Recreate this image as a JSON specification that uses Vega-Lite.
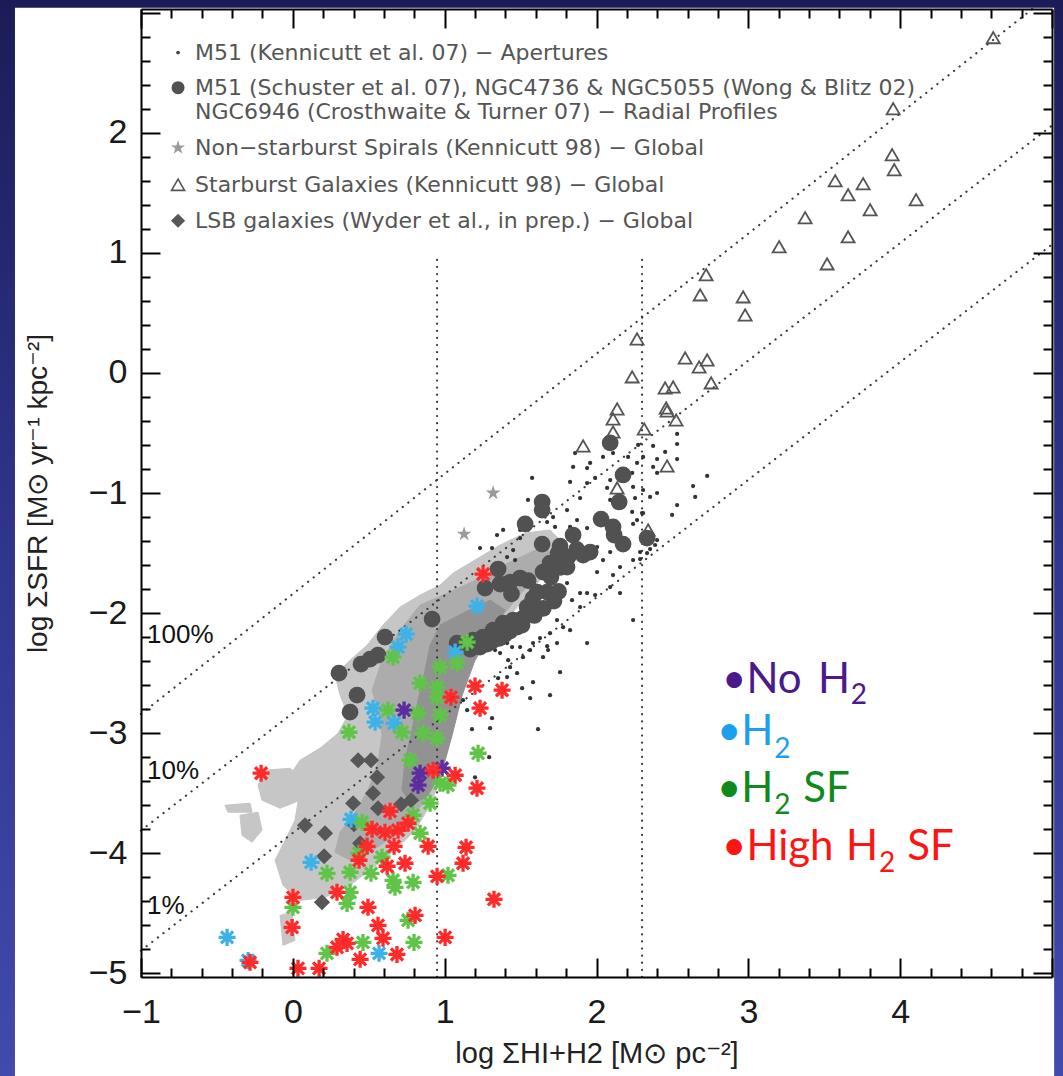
{
"$schema":"https://vega.github.io/schema/vega-lite/v6.json",
"width":911,"height":968,
"autosize":{"type":"none"},
"padding":{"left":141,"top":9,"right":11,"bottom":99},
"background":"#2e3287",
"config":{"view":{"stroke":null},"axis":{"zindex":1,"grid":false}},
"datasets":{
"poly":[
{"p":"o","lvl":1,"i":0,"x":1.055,"y":-1.667},{"p":"o","lvl":1,"i":1,"x":1.2,"y":-1.558},{"p":"o","lvl":1,"i":2,"x":1.365,"y":-1.433},{"p":"o","lvl":1,"i":3,"x":1.53,"y":-1.333},{"p":"o","lvl":1,"i":4,"x":1.694,"y":-1.308},{"p":"o","lvl":1,"i":5,"x":1.793,"y":-1.433},{"p":"o","lvl":1,"i":6,"x":1.694,"y":-1.625},{"p":"o","lvl":1,"i":7,"x":1.563,"y":-1.825},{"p":"o","lvl":1,"i":8,"x":1.431,"y":-2.017},{"p":"o","lvl":1,"i":9,"x":1.299,"y":-2.2},{"p":"o","lvl":1,"i":10,"x":1.187,"y":-2.392},{"p":"o","lvl":1,"i":11,"x":1.121,"y":-2.642},{"p":"o","lvl":1,"i":12,"x":1.069,"y":-2.892},{"p":"o","lvl":1,"i":13,"x":1.022,"y":-3.142},{"p":"o","lvl":1,"i":14,"x":0.97,"y":-3.392},{"p":"o","lvl":1,"i":15,"x":0.904,"y":-3.6},{"p":"o","lvl":1,"i":16,"x":0.805,"y":-3.808},{"p":"o","lvl":1,"i":17,"x":0.673,"y":-3.975},{"p":"o","lvl":1,"i":18,"x":0.522,"y":-4.125},{"p":"o","lvl":1,"i":19,"x":0.377,"y":-4.267},{"p":"o","lvl":1,"i":20,"x":0.212,"y":-4.367},{"p":"o","lvl":1,"i":21,"x":0.047,"y":-4.392},{"p":"o","lvl":1,"i":22,"x":-0.065,"y":-4.267},{"p":"o","lvl":1,"i":23,"x":-0.117,"y":-4.058},{"p":"o","lvl":1,"i":24,"x":-0.051,"y":-3.892},{"p":"o","lvl":1,"i":25,"x":0.014,"y":-3.725},{"p":"o","lvl":1,"i":26,"x":0.047,"y":-3.475},{"p":"o","lvl":1,"i":27,"x":-0.018,"y":-3.35},{"p":"o","lvl":1,"i":28,"x":0.047,"y":-3.225},{"p":"o","lvl":1,"i":29,"x":0.179,"y":-3.125},{"p":"o","lvl":1,"i":30,"x":0.298,"y":-3.0},{"p":"o","lvl":1,"i":31,"x":0.364,"y":-2.85},{"p":"o","lvl":1,"i":32,"x":0.311,"y":-2.683},{"p":"o","lvl":1,"i":33,"x":0.278,"y":-2.517},{"p":"o","lvl":1,"i":34,"x":0.377,"y":-2.392},{"p":"o","lvl":1,"i":35,"x":0.489,"y":-2.267},{"p":"o","lvl":1,"i":36,"x":0.594,"y":-2.1},{"p":"o","lvl":1,"i":37,"x":0.706,"y":-1.95},{"p":"o","lvl":1,"i":38,"x":0.838,"y":-1.85},{"p":"o","lvl":1,"i":39,"x":0.97,"y":-1.767},
{"p":"a","lvl":1,"i":0,"x":-0.183,"y":-3.308},{"p":"a","lvl":1,"i":1,"x":-0.018,"y":-3.292},{"p":"a","lvl":1,"i":2,"x":0.08,"y":-3.392},{"p":"a","lvl":1,"i":3,"x":0.047,"y":-3.558},{"p":"a","lvl":1,"i":4,"x":-0.084,"y":-3.625},{"p":"a","lvl":1,"i":5,"x":-0.203,"y":-3.558},{"p":"a","lvl":1,"i":6,"x":-0.229,"y":-3.433},
{"p":"b","lvl":1,"i":0,"x":-0.348,"y":-3.683},{"p":"b","lvl":1,"i":1,"x":-0.229,"y":-3.658},{"p":"b","lvl":1,"i":2,"x":-0.203,"y":-3.808},{"p":"b","lvl":1,"i":3,"x":-0.269,"y":-3.908},{"p":"b","lvl":1,"i":4,"x":-0.335,"y":-3.85},
{"p":"c","lvl":1,"i":0,"x":-0.447,"y":-3.6},{"p":"c","lvl":1,"i":1,"x":-0.282,"y":-3.583},{"p":"c","lvl":1,"i":2,"x":-0.269,"y":-3.658},{"p":"c","lvl":1,"i":3,"x":-0.427,"y":-3.658},
{"p":"e","lvl":1,"i":0,"x":-0.084,"y":-4.517},{"p":"e","lvl":1,"i":1,"x":-0.005,"y":-4.492},{"p":"e","lvl":1,"i":2,"x":0.014,"y":-4.725},{"p":"e","lvl":1,"i":3,"x":-0.065,"y":-4.767},
{"p":"m","lvl":2,"i":0,"x":0.838,"y":-1.933},{"p":"m","lvl":2,"i":1,"x":1.036,"y":-1.825},{"p":"m","lvl":2,"i":2,"x":1.233,"y":-1.708},{"p":"m","lvl":2,"i":3,"x":1.431,"y":-1.575},{"p":"m","lvl":2,"i":4,"x":1.628,"y":-1.458},{"p":"m","lvl":2,"i":5,"x":1.714,"y":-1.5},{"p":"m","lvl":2,"i":6,"x":1.628,"y":-1.658},{"p":"m","lvl":2,"i":7,"x":1.464,"y":-1.892},{"p":"m","lvl":2,"i":8,"x":1.332,"y":-2.1},{"p":"m","lvl":2,"i":9,"x":1.22,"y":-2.292},{"p":"m","lvl":2,"i":10,"x":1.134,"y":-2.517},{"p":"m","lvl":2,"i":11,"x":1.069,"y":-2.808},{"p":"m","lvl":2,"i":12,"x":1.016,"y":-3.1},{"p":"m","lvl":2,"i":13,"x":0.95,"y":-3.35},{"p":"m","lvl":2,"i":14,"x":0.871,"y":-3.558},{"p":"m","lvl":2,"i":15,"x":0.772,"y":-3.725},{"p":"m","lvl":2,"i":16,"x":0.64,"y":-3.875},{"p":"m","lvl":2,"i":17,"x":0.509,"y":-3.992},{"p":"m","lvl":2,"i":18,"x":0.377,"y":-4.058},{"p":"m","lvl":2,"i":19,"x":0.278,"y":-3.992},{"p":"m","lvl":2,"i":20,"x":0.311,"y":-3.825},{"p":"m","lvl":2,"i":21,"x":0.41,"y":-3.658},{"p":"m","lvl":2,"i":22,"x":0.495,"y":-3.475},{"p":"m","lvl":2,"i":23,"x":0.561,"y":-3.242},{"p":"m","lvl":2,"i":24,"x":0.588,"y":-3.017},{"p":"m","lvl":2,"i":25,"x":0.561,"y":-2.808},{"p":"m","lvl":2,"i":26,"x":0.522,"y":-2.642},{"p":"m","lvl":2,"i":27,"x":0.588,"y":-2.392},{"p":"m","lvl":2,"i":28,"x":0.706,"y":-2.142},
{"p":"d","lvl":3,"i":0,"x":0.97,"y":-2.1},{"p":"d","lvl":3,"i":1,"x":1.134,"y":-1.992},{"p":"d","lvl":3,"i":2,"x":1.299,"y":-1.892},{"p":"d","lvl":3,"i":3,"x":1.398,"y":-1.975},{"p":"d","lvl":3,"i":4,"x":1.299,"y":-2.183},{"p":"d","lvl":3,"i":5,"x":1.2,"y":-2.392},{"p":"d","lvl":3,"i":6,"x":1.115,"y":-2.683},{"p":"d","lvl":3,"i":7,"x":1.049,"y":-3.017},{"p":"d","lvl":3,"i":8,"x":0.983,"y":-3.308},{"p":"d","lvl":3,"i":9,"x":0.891,"y":-3.517},{"p":"d","lvl":3,"i":10,"x":0.785,"y":-3.6},{"p":"d","lvl":3,"i":11,"x":0.719,"y":-3.475},{"p":"d","lvl":3,"i":12,"x":0.739,"y":-3.225},{"p":"d","lvl":3,"i":13,"x":0.785,"y":-2.975},{"p":"d","lvl":3,"i":14,"x":0.825,"y":-2.725},{"p":"d","lvl":3,"i":15,"x":0.871,"y":-2.475},{"p":"d","lvl":3,"i":16,"x":0.904,"y":-2.267}
],
"lines":[
{"id":"p100","i":0,"x":-1,"y":-2.84},{"id":"p100","i":1,"x":4.87,"y":3.03},
{"id":"p10","i":0,"x":-1,"y":-3.81},{"id":"p10","i":1,"x":5,"y":2.06},
{"id":"p1","i":0,"x":-1,"y":-4.81},{"id":"p1","i":1,"x":5,"y":1.07},
{"id":"v1","i":0,"x":0.95,"y":-5.03},{"id":"v1","i":1,"x":0.95,"y":0.98},
{"id":"v2","i":0,"x":2.3,"y":-5.03},{"id":"v2","i":1,"x":2.3,"y":0.98}
],
"dots":[
{"x":1.859,"y":-0.667},{"x":1.958,"y":-0.75},{"x":1.991,"y":-0.875},{"x":2.043,"y":-0.7},{"x":2.109,"y":-0.667},{"x":2.208,"y":-0.7},{"x":2.274,"y":-0.6},{"x":2.307,"y":-0.7},{"x":2.373,"y":-0.783},{"x":2.399,"y":-0.833},{"x":2.267,"y":-0.75},{"x":2.235,"y":-0.833},{"x":2.09,"y":-0.892},{"x":2.07,"y":-0.958},{"x":2.09,"y":-1.058},{"x":2.241,"y":-0.95},{"x":2.307,"y":-0.975},{"x":2.399,"y":-1.0},{"x":2.254,"y":-1.042},{"x":2.235,"y":-1.158},{"x":2.307,"y":-1.167},{"x":2.267,"y":-1.225},{"x":1.938,"y":-0.917},{"x":1.826,"y":-0.908},{"x":1.892,"y":-1.042},{"x":1.806,"y":-1.142},{"x":1.714,"y":-1.2},{"x":1.872,"y":-1.225},{"x":1.938,"y":-1.292},{"x":1.826,"y":-1.283},{"x":1.727,"y":-1.283},{"x":1.675,"y":-1.242},{"x":1.576,"y":-0.875},{"x":1.549,"y":-1.058},{"x":1.497,"y":-1.308},{"x":1.385,"y":-1.308},{"x":1.345,"y":-1.35},{"x":1.497,"y":-1.375},{"x":1.233,"y":-1.458},{"x":1.312,"y":-1.458},{"x":1.451,"y":-1.475},{"x":1.411,"y":-1.533},{"x":1.464,"y":-1.558},{"x":2.004,"y":-1.45},{"x":2.09,"y":-1.492},{"x":2.043,"y":-1.558},{"x":2.155,"y":-1.617},{"x":2.287,"y":-1.492},{"x":2.241,"y":-1.558},{"x":2.333,"y":-1.5},{"x":2.109,"y":-1.683},{"x":2.004,"y":-1.658},{"x":1.892,"y":-1.833},{"x":1.938,"y":-1.833},{"x":1.991,"y":-1.85},{"x":2.09,"y":-1.783},{"x":1.806,"y":-1.75},{"x":1.76,"y":-1.808},{"x":1.714,"y":-1.892},{"x":1.675,"y":-2.0},{"x":1.74,"y":-2.058},{"x":1.839,"y":-1.892},{"x":1.892,"y":-1.95},{"x":1.78,"y":-2.117},{"x":1.694,"y":-2.167},{"x":1.628,"y":-2.208},{"x":1.582,"y":-2.25},{"x":1.938,"y":-2.25},{"x":1.826,"y":-2.142},{"x":2.386,"y":-1.433},{"x":2.155,"y":-1.833},{"x":2.241,"y":-2.058},{"x":1.365,"y":-2.333},{"x":1.444,"y":-2.283},{"x":1.497,"y":-2.283},{"x":1.563,"y":-2.308},{"x":1.675,"y":-2.275},{"x":1.477,"y":-2.5},{"x":1.411,"y":-2.533},{"x":1.352,"y":-2.542},{"x":1.431,"y":-2.45},{"x":1.76,"y":-2.492},{"x":1.582,"y":-2.575},{"x":1.51,"y":-2.625},{"x":1.694,"y":-2.683},{"x":1.563,"y":-2.708},{"x":1.148,"y":-2.808},{"x":1.312,"y":-2.875},{"x":1.121,"y":-2.725},{"x":1.18,"y":-2.967},{"x":1.299,"y":-2.958},{"x":1.615,"y":-2.967},{"x":1.293,"y":-3.2},{"x":1.2,"y":-3.367},{"x":1.74,"y":-2.25},{"x":1.681,"y":-2.308},{"x":1.648,"y":-2.367},{"x":1.411,"y":-2.25},{"x":1.332,"y":-2.308},{"x":1.418,"y":-2.392},{"x":1.516,"y":-2.367},{"x":2.373,"y":-0.608},{"x":2.452,"y":-0.658},{"x":2.531,"y":-0.592},{"x":2.531,"y":-0.508},{"x":2.399,"y":-0.717},{"x":2.531,"y":-0.717},{"x":2.729,"y":-0.858},{"x":2.636,"y":-0.942},{"x":2.65,"y":-1.033},{"x":2.531,"y":-1.1},{"x":2.498,"y":-1.183},{"x":2.353,"y":-1.033},{"x":2.3,"y":-1.167},{"x":2.241,"y":-1.258},{"x":2.399,"y":-1.392},{"x":2.353,"y":-1.467},{"x":2.287,"y":-1.55},{"x":1.846,"y":-0.783},{"x":1.938,"y":-0.792}
],
"circles":[
{"x":2.09,"y":-0.583},{"x":2.175,"y":-0.85},{"x":2.149,"y":-1.075},{"x":1.642,"y":-1.075},{"x":1.642,"y":-1.142},{"x":1.53,"y":-1.258},{"x":2.03,"y":-1.217},{"x":2.109,"y":-1.283},{"x":2.116,"y":-1.35},{"x":2.175,"y":-1.425},{"x":2.333,"y":-1.375},{"x":1.846,"y":-1.35},{"x":1.642,"y":-1.425},{"x":1.76,"y":-1.442},{"x":1.958,"y":-1.492},{"x":1.912,"y":-1.517},{"x":1.813,"y":-1.533},{"x":1.747,"y":-1.5},{"x":1.694,"y":-1.583},{"x":1.806,"y":-1.617},{"x":1.648,"y":-1.658},{"x":1.497,"y":-1.708},{"x":1.431,"y":-1.742},{"x":1.365,"y":-1.758},{"x":1.352,"y":-1.633},{"x":1.609,"y":-1.825},{"x":1.675,"y":-1.825},{"x":1.266,"y":-1.792},{"x":1.543,"y":-1.95},{"x":1.516,"y":-2.042},{"x":1.451,"y":-2.058},{"x":1.385,"y":-2.083},{"x":1.319,"y":-2.142},{"x":1.253,"y":-2.2},{"x":0.917,"y":-2.05},{"x":1.187,"y":-2.225},{"x":0.607,"y":-2.2},{"x":0.304,"y":-2.5},{"x":0.423,"y":-2.683},{"x":0.377,"y":-2.825},{"x":0.449,"y":-2.425},{"x":0.509,"y":-2.383},{"x":0.561,"y":-2.35},{"x":1.233,"y":-2.283},{"x":1.312,"y":-2.233},{"x":1.398,"y":-2.175},{"x":1.477,"y":-2.117},{"x":1.082,"y":-2.25},{"x":1.563,"y":-1.992},
{"x":1.168,"y":-2.3},{"x":1.28,"y":-2.258},{"x":1.36,"y":-2.21},{"x":1.43,"y":-2.15},{"x":1.51,"y":-2.1},{"x":1.59,"y":-2.02},{"x":1.65,"y":-1.96},{"x":1.72,"y":-1.9},{"x":1.75,"y":-1.82},{"x":1.58,"y":-1.88},{"x":1.7,"y":-1.7},{"x":1.76,"y":-1.62},{"x":1.87,"y":-1.47},{"x":1.55,"y":-1.73},{"x":1.44,"y":-1.84}
],
"tri":[
{"x":4.613,"y":2.792},{"x":3.954,"y":2.2},{"x":3.947,"y":1.817},{"x":3.961,"y":1.692},{"x":3.572,"y":1.6},{"x":3.756,"y":1.575},{"x":3.657,"y":1.483},{"x":4.105,"y":1.442},{"x":3.802,"y":1.358},{"x":3.374,"y":1.292},{"x":3.657,"y":1.133},{"x":3.203,"y":1.05},{"x":3.519,"y":0.908},{"x":2.722,"y":0.817},{"x":2.683,"y":0.65},{"x":2.966,"y":0.633},{"x":2.979,"y":0.483},{"x":2.267,"y":0.283},{"x":2.235,"y":-0.033},{"x":2.584,"y":0.125},{"x":2.729,"y":0.108},{"x":2.676,"y":0.05},{"x":2.755,"y":-0.083},{"x":2.452,"y":-0.125},{"x":2.505,"y":-0.117},{"x":2.459,"y":-0.292},{"x":2.465,"y":-0.317},{"x":2.524,"y":-0.392},{"x":2.136,"y":-0.3},{"x":2.109,"y":-0.383},{"x":2.109,"y":-0.492},{"x":2.314,"y":-0.467},{"x":1.912,"y":-0.608},{"x":2.465,"y":-0.775},{"x":2.34,"y":-1.308},{"x":2.136,"y":-0.958}
],
"stars":[{"x":1.319,"y":-1.0},{"x":1.128,"y":-1.342}],
"dia":[
{"x":0.43,"y":-3.225},{"x":0.515,"y":-3.225},{"x":0.555,"y":-3.367},{"x":0.528,"y":-3.5},{"x":0.397,"y":-3.583},{"x":0.561,"y":-3.625},{"x":0.713,"y":-3.592},{"x":0.779,"y":-3.558},{"x":0.08,"y":-3.767},{"x":0.212,"y":-3.833},{"x":0.403,"y":-3.758},{"x":0.206,"y":-4.025},{"x":0.192,"y":-4.408},{"x":0.443,"y":-3.917}
],
"ast":[
{"x":1.213,"y":-1.942,"c":"H2"},{"x":0.746,"y":-2.175,"c":"H2"},{"x":0.693,"y":-2.283,"c":"H2"},{"x":0.66,"y":-2.367,"c":"H2 SF"},{"x":1.069,"y":-2.325,"c":"H2"},{"x":1.148,"y":-2.242,"c":"H2 SF"},{"x":0.97,"y":-2.45,"c":"H2 SF"},{"x":1.082,"y":-2.417,"c":"H2 SF"},{"x":0.838,"y":-2.583,"c":"H2 SF"},{"x":0.95,"y":-2.617,"c":"H2 SF"},{"x":0.95,"y":-2.7,"c":"H2 SF"},
{"x":0.528,"y":-2.792,"c":"H2"},{"x":0.542,"y":-2.908,"c":"H2"},{"x":0.627,"y":-2.808,"c":"H2 SF"},{"x":0.733,"y":-2.808,"c":"No H2"},{"x":0.825,"y":-2.833,"c":"H2 SF"},{"x":0.667,"y":-2.917,"c":"H2"},{"x":0.719,"y":-2.992,"c":"H2 SF"},{"x":0.858,"y":-3.0,"c":"H2 SF"},{"x":0.97,"y":-2.85,"c":"H2 SF"},{"x":0.95,"y":-3.042,"c":"H2 SF"},{"x":0.37,"y":-2.992,"c":"H2 SF"},{"x":1.22,"y":-3.167,"c":"H2 SF"},{"x":0.772,"y":-3.225,"c":"H2 SF"},
{"x":0.838,"y":-3.333,"c":"No H2"},{"x":0.983,"y":-3.292,"c":"No H2"},{"x":0.825,"y":-3.433,"c":"No H2"},{"x":0.97,"y":-3.417,"c":"H2 SF"},{"x":1.022,"y":-3.433,"c":"H2 SF"},{"x":0.904,"y":-3.583,"c":"H2 SF"},{"x":0.792,"y":-3.683,"c":"H2 SF"},{"x":0.383,"y":-3.717,"c":"H2"},{"x":0.456,"y":-3.742,"c":"H2 SF"},{"x":0.838,"y":-3.833,"c":"H2 SF"},{"x":0.436,"y":-4.0,"c":"H2 SF"},{"x":0.587,"y":-4.033,"c":"H2 SF"},{"x":0.12,"y":-4.075,"c":"H2"},{"x":0.225,"y":-4.167,"c":"H2 SF"},{"x":0.377,"y":-4.158,"c":"H2 SF"},{"x":0.515,"y":-4.167,"c":"H2 SF"},{"x":0.66,"y":-4.225,"c":"H2 SF"},{"x":0.792,"y":-4.242,"c":"H2 SF"},{"x":1.022,"y":-4.183,"c":"H2 SF"},{"x":0.673,"y":-4.283,"c":"H2 SF"},{"x":0.377,"y":-4.325,"c":"H2 SF"},{"x":0.001,"y":-4.45,"c":"H2 SF"},{"x":0.357,"y":-4.417,"c":"H2 SF"},{"x":0.759,"y":-4.558,"c":"H2 SF"},{"x":0.798,"y":-4.742,"c":"H2 SF"},{"x":-0.433,"y":-4.7,"c":"H2"},{"x":0.462,"y":-4.742,"c":"H2 SF"},{"x":0.225,"y":-4.833,"c":"H2 SF"},{"x":0.568,"y":-4.833,"c":"H2"},{"x":-0.295,"y":-4.892,"c":"H2"},
{"x":1.253,"y":-1.675,"c":"High H2 SF"},{"x":1.042,"y":-2.7,"c":"High H2 SF"},{"x":1.2,"y":-2.608,"c":"High H2 SF"},{"x":1.233,"y":-2.792,"c":"High H2 SF"},{"x":1.378,"y":-2.642,"c":"High H2 SF"},{"x":0.924,"y":-3.308,"c":"High H2 SF"},{"x":1.069,"y":-3.35,"c":"High H2 SF"},{"x":-0.209,"y":-3.333,"c":"High H2 SF"},{"x":1.213,"y":-3.458,"c":"High H2 SF"},{"x":0.64,"y":-3.65,"c":"High H2 SF"},{"x":0.522,"y":-3.8,"c":"High H2 SF"},{"x":0.607,"y":-3.825,"c":"High H2 SF"},{"x":0.693,"y":-3.808,"c":"High H2 SF"},{"x":0.759,"y":-3.75,"c":"High H2 SF"},{"x":0.489,"y":-3.942,"c":"High H2 SF"},{"x":0.667,"y":-3.942,"c":"High H2 SF"},{"x":0.891,"y":-3.942,"c":"High H2 SF"},{"x":1.141,"y":-3.95,"c":"High H2 SF"},{"x":1.121,"y":-4.083,"c":"High H2 SF"},{"x":0.436,"y":-4.058,"c":"High H2 SF"},{"x":0.621,"y":-4.108,"c":"High H2 SF"},{"x":0.739,"y":-4.083,"c":"High H2 SF"},{"x":0.95,"y":-4.192,"c":"High H2 SF"},{"x":0.291,"y":-4.325,"c":"High H2 SF"},{"x":0.001,"y":-4.367,"c":"High H2 SF"},{"x":0.495,"y":-4.45,"c":"High H2 SF"},{"x":1.325,"y":-4.383,"c":"High H2 SF"},{"x":0.805,"y":-4.517,"c":"High H2 SF"},{"x":-0.005,"y":-4.617,"c":"High H2 SF"},{"x":0.561,"y":-4.6,"c":"High H2 SF"},{"x":0.594,"y":-4.708,"c":"High H2 SF"},{"x":1.003,"y":-4.7,"c":"High H2 SF"},{"x":0.331,"y":-4.717,"c":"High H2 SF"},{"x":0.357,"y":-4.75,"c":"High H2 SF"},{"x":0.291,"y":-4.783,"c":"High H2 SF"},{"x":0.686,"y":-4.842,"c":"High H2 SF"},{"x":0.443,"y":-4.883,"c":"High H2 SF"},{"x":-0.282,"y":-4.908,"c":"High H2 SF"},{"x":0.034,"y":-4.958,"c":"High H2 SF"},{"x":0.173,"y":-4.958,"c":"High H2 SF"}
],
"legtext":[
{"x":-0.644,"y":2.667,"t":"M51 (Kennicutt et al. 07) − Apertures"},
{"x":-0.644,"y":2.375,"t":"M51 (Schuster et al. 07), NGC4736 & NGC5055 (Wong & Blitz 02)"},
{"x":-0.644,"y":2.175,"t":"NGC6946 (Crosthwaite & Turner 07) − Radial Profiles"},
{"x":-0.644,"y":1.875,"t":"Non−starburst Spirals (Kennicutt 98) − Global"},
{"x":-0.644,"y":1.567,"t":"Starburst Galaxies (Kennicutt 98) − Global"},
{"x":-0.644,"y":1.267,"t":"LSB galaxies (Wyder et al., in prep.) − Global"}
],
"pct":[{"x":-0.96,"y":-2.183,"t":"100%"},{"x":-0.96,"y":-3.317,"t":"10%"},{"x":-0.96,"y":-4.442,"t":"1%"}],
"annot":[
{"x":2.827,"y":-2.558,"t":"•No","c":"No H2","part":"l"},
{"x":3.67,"y":-2.558,"t":"H","c":"No H2","part":"r"},
{"x":3.675,"y":-2.69,"t":"2","c":"No H2","part":"s"},
{"x":3.165,"y":-2.992,"t":"•H","c":"H2","part":"r"},
{"x":3.17,"y":-3.14,"t":"2","c":"H2","part":"s"},
{"x":3.165,"y":-3.467,"t":"•H","c":"H2 SF","part":"r"},
{"x":3.17,"y":-3.605,"t":"2","c":"H2 SF","part":"s"},
{"x":3.361,"y":-3.467,"t":"SF","c":"H2 SF","part":"l"},
{"x":2.827,"y":-3.95,"t":"•High","c":"High H2 SF","part":"l"},
{"x":3.855,"y":-3.95,"t":"H","c":"High H2 SF","part":"r"},
{"x":3.86,"y":-4.09,"t":"2","c":"High H2 SF","part":"s"},
{"x":4.046,"y":-3.95,"t":"SF","c":"High H2 SF","part":"l"}
]
},
"encoding":{
"x":{"field":"x","type":"quantitative","scale":{"domain":[-1,5],"nice":false,"zero":false},"axis":null},
"y":{"field":"y","type":"quantitative","scale":{"domain":[-5.03,3.03],"nice":false,"zero":false},"axis":null}
},
"layer":[
{"data":{"values":[{"x":-1.93,"x2":5.08,"y":-5.86,"y2":3.11}]},"mark":{"type":"rect","fill":{"gradient":"linear","x1":0,"y1":0,"x2":0,"y2":1,"stops":[{"offset":0,"color":"#1b1c57"},{"offset":0.5,"color":"#30358c"},{"offset":1,"color":"#424aab"}]}},"encoding":{"x2":{"field":"x2"},"y2":{"field":"y2"}}},
{"data":{"values":[{"x":-1.83,"x2":5.014,"y":-5.86,"y2":3.04}]},"mark":{"type":"rect","fill":"#ffffff"},"encoding":{"x2":{"field":"x2"},"y2":{"field":"y2"}}},
{"data":{"name":"poly"},"transform":[{"filter":"datum.lvl==1"}],"mark":{"type":"line","interpolate":"linear-closed","fill":"#c6c6c6","stroke":"#c6c6c6","strokeWidth":1},"encoding":{"detail":{"field":"p","type":"nominal"},"order":{"field":"i","type":"quantitative"}}},
{"data":{"name":"poly"},"transform":[{"filter":"datum.lvl==2"}],"mark":{"type":"line","interpolate":"linear-closed","fill":"#acacac","stroke":"#acacac","strokeWidth":1},"encoding":{"detail":{"field":"p","type":"nominal"},"order":{"field":"i","type":"quantitative"}}},
{"data":{"name":"poly"},"transform":[{"filter":"datum.lvl==3"}],"mark":{"type":"line","interpolate":"linear-closed","fill":"#929292","stroke":"#929292","strokeWidth":1},"encoding":{"detail":{"field":"p","type":"nominal"},"order":{"field":"i","type":"quantitative"}}},
{"data":{"name":"lines"},"mark":{"type":"line","stroke":"#3a3a3a","strokeWidth":2.2,"strokeDash":[0.1,7],"strokeCap":"round"},"encoding":{"detail":{"field":"id","type":"nominal"},"order":{"field":"i","type":"quantitative"}}},
{"data":{"name":"dots"},"mark":{"type":"point","shape":"circle","filled":true,"size":18,"color":"#333333","opacity":1}},
{"data":{"name":"stars"},"mark":{"type":"point","shape":"M0,-1L0.2245,-0.309L0.951,-0.309L0.363,0.118L0.588,0.809L0,0.382L-0.588,0.809L-0.363,0.118L-0.951,-0.309L-0.2245,-0.309Z","filled":true,"size":240,"color":"#9a9a9a","opacity":1}},
{"data":{"name":"tri"},"mark":{"type":"point","shape":"triangle-up","filled":false,"size":170,"stroke":"#555555","strokeWidth":1.8,"opacity":1}},
{"data":{"name":"circles"},"mark":{"type":"point","shape":"circle","filled":true,"size":280,"color":"#515151","opacity":1}},
{"data":{"name":"dia"},"mark":{"type":"point","shape":"diamond","filled":true,"size":260,"color":"#575757","opacity":1}},
{"data":{"name":"ast"},"mark":{"type":"point","shape":"M-1,0L1,0M0,-1L0,1M-0.71,-0.71L0.71,0.71M-0.71,0.71L0.71,-0.71","filled":false,"size":290,"strokeWidth":3.3,"opacity":1},"encoding":{"color":{"field":"c","type":"nominal","scale":{"domain":["No H2","H2","H2 SF","High H2 SF"],"range":["#5b2d9e","#3cb2e8","#5fc447","#ff2a2a"]},"legend":null}}},
{"data":{"values":[{"x":-0.756,"y":2.667}]},"mark":{"type":"point","shape":"circle","filled":true,"size":14,"color":"#444444","opacity":1}},
{"data":{"values":[{"x":-0.756,"y":2.375}]},"mark":{"type":"point","shape":"circle","filled":true,"size":170,"color":"#515151","opacity":1}},
{"data":{"values":[{"x":-0.756,"y":1.875}]},"mark":{"type":"point","shape":"M0,-1L0.2245,-0.309L0.951,-0.309L0.363,0.118L0.588,0.809L0,0.382L-0.588,0.809L-0.363,0.118L-0.951,-0.309L-0.2245,-0.309Z","filled":true,"size":220,"color":"#9a9a9a","opacity":1}},
{"data":{"values":[{"x":-0.756,"y":1.567}]},"mark":{"type":"point","shape":"triangle-up","filled":false,"size":170,"stroke":"#555555","strokeWidth":1.6,"opacity":1}},
{"data":{"values":[{"x":-0.756,"y":1.267}]},"mark":{"type":"point","shape":"diamond","filled":true,"size":200,"color":"#575757","opacity":1}},
{"data":{"name":"legtext"},"mark":{"type":"text","align":"left","baseline":"middle","font":"DejaVu Sans","fontSize":22,"color":"#555555"},"encoding":{"text":{"field":"t"}}},
{"data":{"name":"pct"},"mark":{"type":"text","align":"left","baseline":"middle","font":"Liberation Sans","fontSize":26,"color":"#111111"},"encoding":{"text":{"field":"t"}}},
{"data":{"name":"annot"},"transform":[{"filter":"datum.part=='l'"}],"mark":{"type":"text","align":"left","baseline":"middle","font":"Lato","fontSize":42},"encoding":{"text":{"field":"t"},"color":{"field":"c","type":"nominal","scale":{"domain":["No H2","H2","H2 SF","High H2 SF"],"range":["#4a1a8c","#1d9ff0","#108a1c","#ff1414"]},"legend":null}}},
{"data":{"name":"annot"},"transform":[{"filter":"datum.part=='r'"}],"mark":{"type":"text","align":"right","baseline":"middle","font":"Lato","fontSize":42},"encoding":{"text":{"field":"t"},"color":{"field":"c","type":"nominal","scale":{"domain":["No H2","H2","H2 SF","High H2 SF"],"range":["#4a1a8c","#1d9ff0","#108a1c","#ff1414"]},"legend":null}}},
{"data":{"name":"annot"},"transform":[{"filter":"datum.part=='s'"}],"mark":{"type":"text","align":"left","baseline":"middle","font":"Lato","fontSize":28},"encoding":{"text":{"field":"t"},"color":{"field":"c","type":"nominal","scale":{"domain":["No H2","H2","H2 SF","High H2 SF"],"range":["#4a1a8c","#1d9ff0","#108a1c","#ff1414"]},"legend":null}}},
{"data":{"values":[{"x":0,"y":0}]},"mark":{"type":"point","opacity":0},
 "encoding":{
 "x":{"field":"x","type":"quantitative","scale":{"domain":[-1,5],"nice":false,"zero":false},"axis":{"orient":"bottom","values":[-1,0,1,2,3,4],"ticks":false,"domain":true,"domainColor":"#000000","domainWidth":2,"labelFont":"Liberation Sans Narrow, Liberation Sans","labelFontSize":34,"labelColor":"#1a1a1a","labelPadding":18,"labelFlush":false,"labelOverlap":false,"title":"log ΣHI+H2 [M⊙ pc⁻²]","titleFont":"Liberation Sans","titleFontSize":29,"titleFontWeight":"normal","titleColor":"#222222","titlePadding":10,"zindex":1}},
 "y":{"field":"y","type":"quantitative","scale":{"domain":[-5.03,3.03],"nice":false,"zero":false},"axis":{"orient":"left","values":[-5,-4,-3,-2,-1,0,1,2],"ticks":false,"domain":true,"domainColor":"#000000","domainWidth":2,"labelFont":"Liberation Sans Narrow, Liberation Sans","labelFontSize":34,"labelColor":"#1a1a1a","labelPadding":14,"labelOverlap":false,"labelFlush":false,"title":"log ΣSFR [M⊙ yr⁻¹ kpc⁻²]","titleFont":"Liberation Sans","titleFontSize":28,"titleFontWeight":"normal","titleColor":"#222222","titlePadding":36,"zindex":1}}}},
{"data":{"values":[{"x":0,"y":0}]},"mark":{"type":"point","opacity":0},
 "encoding":{
 "x":{"field":"x","type":"quantitative","scale":{"domain":[-1,5],"nice":false,"zero":false},"axis":{"orient":"bottom","values":[-1,0,1,2,3,4,5],"labels":false,"domain":false,"ticks":true,"tickSize":-19,"tickWidth":2,"tickColor":"#000000","title":null,"zindex":1}},
 "y":{"field":"y","type":"quantitative","scale":{"domain":[-5.03,3.03],"nice":false,"zero":false},"axis":{"orient":"left","values":[-5,-4,-3,-2,-1,0,1,2,3],"labels":false,"domain":false,"ticks":true,"tickSize":-19,"tickWidth":2,"tickColor":"#000000","title":null,"zindex":1}}}},
{"data":{"values":[{"x":0,"y":0}]},"mark":{"type":"point","opacity":0},
 "encoding":{
 "x":{"field":"x","type":"quantitative","scale":{"domain":[-1,5],"nice":false,"zero":false},"axis":{"orient":"bottom","values":[-0.8,-0.6,-0.4,-0.2,0.2,0.4,0.6,0.8,1.2,1.4,1.6,1.8,2.2,2.4,2.6,2.8,3.2,3.4,3.6,3.8,4.2,4.4,4.6,4.8],"labels":false,"domain":false,"ticks":true,"tickSize":-9,"tickWidth":2,"tickColor":"#000000","title":null,"zindex":1}},
 "y":{"field":"y","type":"quantitative","scale":{"domain":[-5.03,3.03],"nice":false,"zero":false},"axis":{"orient":"left","values":[-4.8,-4.6,-4.4,-4.2,-3.8,-3.6,-3.4,-3.2,-2.8,-2.6,-2.4,-2.2,-1.8,-1.6,-1.4,-1.2,-0.8,-0.6,-0.4,-0.2,0.2,0.4,0.6,0.8,1.2,1.4,1.6,1.8,2.2,2.4,2.6,2.8],"labels":false,"domain":false,"ticks":true,"tickSize":-9,"tickWidth":2,"tickColor":"#000000","title":null,"zindex":1}}}},
{"data":{"values":[{"x":0,"y":0}]},"mark":{"type":"point","opacity":0},
 "encoding":{
 "x":{"field":"x","type":"quantitative","scale":{"domain":[-1,5],"nice":false,"zero":false},"axis":{"orient":"top","values":[-1,0,1,2,3,4,5],"labels":false,"domain":true,"domainColor":"#000000","domainWidth":2,"ticks":true,"tickSize":-19,"tickWidth":2,"tickColor":"#000000","title":null,"zindex":1}},
 "y":{"field":"y","type":"quantitative","scale":{"domain":[-5.03,3.03],"nice":false,"zero":false},"axis":{"orient":"right","values":[-5,-4,-3,-2,-1,0,1,2,3],"labels":false,"domain":true,"domainColor":"#000000","domainWidth":2,"ticks":true,"tickSize":-19,"tickWidth":2,"tickColor":"#000000","title":null,"zindex":1}}}},
{"data":{"values":[{"x":0,"y":0}]},"mark":{"type":"point","opacity":0},
 "encoding":{
 "x":{"field":"x","type":"quantitative","scale":{"domain":[-1,5],"nice":false,"zero":false},"axis":{"orient":"top","values":[-0.8,-0.6,-0.4,-0.2,0.2,0.4,0.6,0.8,1.2,1.4,1.6,1.8,2.2,2.4,2.6,2.8,3.2,3.4,3.6,3.8,4.2,4.4,4.6,4.8],"labels":false,"domain":false,"ticks":true,"tickSize":-9,"tickWidth":2,"tickColor":"#000000","title":null,"zindex":1}},
 "y":{"field":"y","type":"quantitative","scale":{"domain":[-5.03,3.03],"nice":false,"zero":false},"axis":{"orient":"right","values":[-4.8,-4.6,-4.4,-4.2,-3.8,-3.6,-3.4,-3.2,-2.8,-2.6,-2.4,-2.2,-1.8,-1.6,-1.4,-1.2,-0.8,-0.6,-0.4,-0.2,0.2,0.4,0.6,0.8,1.2,1.4,1.6,1.8,2.2,2.4,2.6,2.8],"labels":false,"domain":false,"ticks":true,"tickSize":-9,"tickWidth":2,"tickColor":"#000000","title":null,"zindex":1}}}}
],
"resolve":{"axis":{"x":"independent","y":"independent"},"scale":{"color":"independent"}}
}
